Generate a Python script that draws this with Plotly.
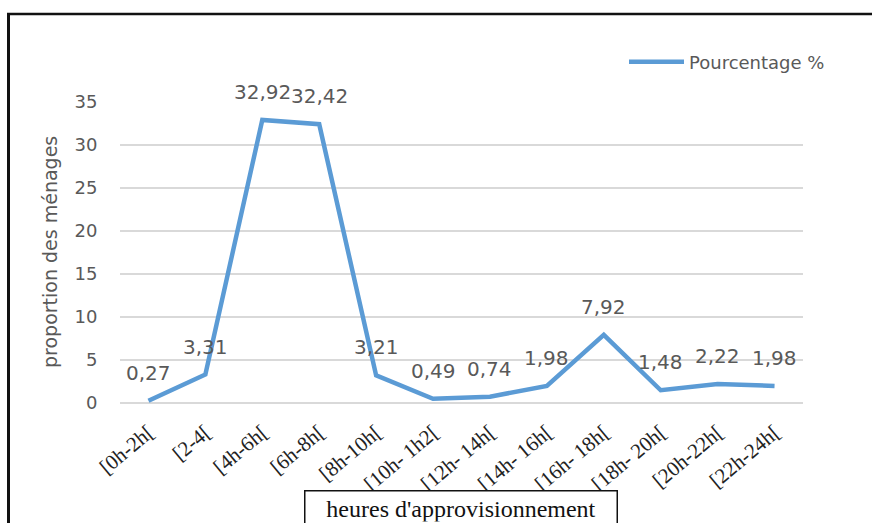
import plotly.graph_objects as go

# Tranches horaires et pourcentages de ménages
categories = ["[0h-2h[", "[2-4[", "[4h-6h[", "[6h-8h[", "[8h-10h[", "[10h- 1h2[",
              "[12h- 14h[", "[14h- 16h[", "[16h- 18h[", "[18h- 20h[", "[20h-22h[", "[22h-24h["]
pourcentage = [0.27, 3.31, 32.92, 32.42, 3.21, 0.49, 0.74, 1.98, 7.92, 1.48, 2.22, 1.98]
y_ticks = [0, 5, 10, 15, 20, 25, 30, 35]

W, H = 872, 523
ML, MR, MT, MB = 120, 69, 102, 120
PW, PH = W - ML - MR, H - MT - MB


def px(x):
    return (x - ML) / PW


def py(y):
    return (H - MB - y) / PH


GREY = "#595959"
SANS = "DejaVu Sans"
SERIF = "Liberation Serif"

xi = list(range(len(categories)))

fig = go.Figure()
fig.add_trace(go.Scatter(
    x=xi, y=pourcentage, mode="lines", name="Pourcentage %",
    line=dict(color="#5b9bd5", width=4.5),
    showlegend=True,
))

# Étiquettes de valeur au-dessus de chaque point
for i, v in zip(xi, pourcentage):
    fig.add_annotation(
        x=i, y=v, xref="x", yref="y", showarrow=False,
        text=f"{v:.2f}".replace(".", ","), yshift=28,
        font=dict(family=SANS, size=20, color=GREY),
    )

# Titre de l'axe vertical
fig.add_annotation(
    x=px(50), y=py(252), xref="paper", yref="paper", showarrow=False,
    xanchor="center", yanchor="middle",
    text="proportion des ménages", textangle=-90,
    font=dict(family=SANS, size=19, color=GREY),
)

# Titre de l'axe horizontal encadré
fig.add_annotation(
    x=px(461), y=py(508), xref="paper", yref="paper", showarrow=False,
    xanchor="center", yanchor="middle",
    text="heures d'approvisionnement",
    width=303, height=26, align="center", valign="middle",
    font=dict(family=SERIF, size=24, color="#111111"),
    bordercolor="#111111", borderwidth=1.5, borderpad=4,
    bgcolor="white",
)

# Cadre extérieur (bords gauche et haut)
fig.add_shape(type="line", xref="paper", yref="paper",
              x0=px(8.5), x1=px(8.5), y0=py(13), y1=py(530),
              line=dict(color="#111111", width=3))
fig.add_shape(type="line", xref="paper", yref="paper",
              x0=px(7), x1=px(880), y0=py(14), y1=py(14),
              line=dict(color="#111111", width=2.5))

fig.update_layout(
    width=W, height=H,
    margin=dict(l=ML, r=MR, t=MT, b=MB, pad=0),
    paper_bgcolor="white", plot_bgcolor="white",
    showlegend=True,
    legend=dict(
        x=px(624), y=py(62), xanchor="left", yanchor="middle",
        font=dict(family=SANS, size=18, color=GREY),
        bgcolor="rgba(0,0,0,0)", itemwidth=55,
    ),
    xaxis=dict(
        range=[-0.5, len(categories) - 0.5],
        tickmode="array", tickvals=xi, ticktext=categories,
        tickangle=-40, showgrid=False, zeroline=False, showline=False,
        ticks="outside", ticklen=8, tickcolor="rgba(0,0,0,0)",
        tickfont=dict(family=SERIF, size=21, color="#222222"),
    ),
    yaxis=dict(
        range=[0, 35], tickmode="array", tickvals=y_ticks,
        showgrid=True, gridcolor="#d9d9d9", gridwidth=1.5,
        zeroline=True, zerolinecolor="#d9d9d9", zerolinewidth=1.5,
        showline=False,
        ticks="outside", ticklen=18, tickcolor="rgba(0,0,0,0)",
        tickfont=dict(family=SANS, size=18, color=GREY),
    ),
)

fig.write_html("out.html")
